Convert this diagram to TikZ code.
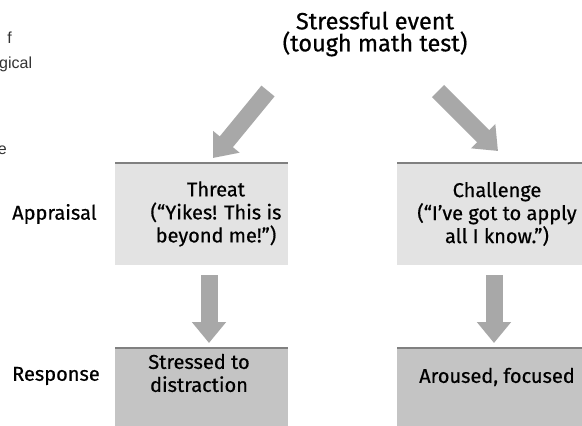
\documentclass[tikz,border=0pt]{standalone}
\usepackage{fontspec}
\setmainfont{Fira Sans}[FakeBold=0.6]
\newfontfamily\fragfont{Liberation Sans}
\usetikzlibrary{arrows.meta}
\definecolor{lightbox}{gray}{0.89}
\definecolor{darkbox}{gray}{0.77}
\definecolor{edgeband}{gray}{0.50}
\definecolor{arrowgray}{gray}{0.66}
\tikzset{
  lbl/.style={font=\fontsize{20}{23}\selectfont, text=black, inner sep=0pt},
  boxtext/.style={font=\fontsize{20}{23}\selectfont, align=center, text=black, inner sep=0pt},
  titletext/.style={font=\fontsize{23.5}{22}\selectfont, align=center, text=black, inner sep=0pt},
  appbox/.style={fill=lightbox},
  resbox/.style={fill=darkbox},
  band/.style={edgeband, line width=2pt},
  fatarrow/.style={draw=arrowgray, line width=17pt,
     -{Triangle[width=33pt,length=21pt]}},
  frag/.style={font=\fragfont\fontsize{16}{18}\selectfont, text=black!80, inner sep=0pt}
}
\begin{document}
\begin{tikzpicture}[x=1pt,y=-1pt]
\useasboundingbox (0,0) rectangle (582,426);
\fill[white] (0,0) rectangle (582,426);
% boxes
\fill[appbox] (115,163) rectangle (288,265);
\fill[appbox] (397,163) rectangle (600,265);
\fill[resbox] (115,348) rectangle (288,430);
\fill[resbox] (397,348) rectangle (600,430);
\draw[band] (115,163) -- (288,163);
\draw[band] (397,163) -- (600,163);
\draw[band] (115,348) -- (288,348);
\draw[band] (397,348) -- (600,348);
% texts
\node[titletext] (event) at (375,34) {Stressful event\\(tough math test)};
\node[boxtext] (threat) at (216,214) {Threat\\(“Yikes! This is\\beyond me!”)};
\node[boxtext] (challenge) at (497,214) {Challenge\\(“I've got to apply\\all I know.”)};
\node[boxtext] (stressed) at (199,373) {Stressed to\\distraction};
\node[boxtext] (aroused) at (497,377) {Aroused, focused};
\node[lbl, anchor=west] (appraisal) at (12,214) {Appraisal};
\node[lbl, anchor=west] (response) at (12,376) {Response};
% fragments of cut text at left edge
\node[frag, anchor=base east] (f1) at (12,43) {f};
\node[frag, anchor=base west] (f2) at (-1,68) {gical};
\node[frag, anchor=base east] (f3) at (7,154) {e};
% arrow anchors
\coordinate (a1s) at (268,91);
\coordinate (a1e) at (213,158);
\coordinate (a2s) at (438,91);
\coordinate (a2e) at (498,151);
\coordinate (a3s) at (209,275);
\coordinate (a3e) at (209,343);
\coordinate (a4s) at (494,275);
\coordinate (a4e) at (494,343);
\draw[fatarrow] (a1s) -- (a1e);
\draw[fatarrow] (a2s) -- (a2e);
\draw[fatarrow] (a3s) -- (a3e);
\draw[fatarrow] (a4s) -- (a4e);
\end{tikzpicture}
\end{document}
